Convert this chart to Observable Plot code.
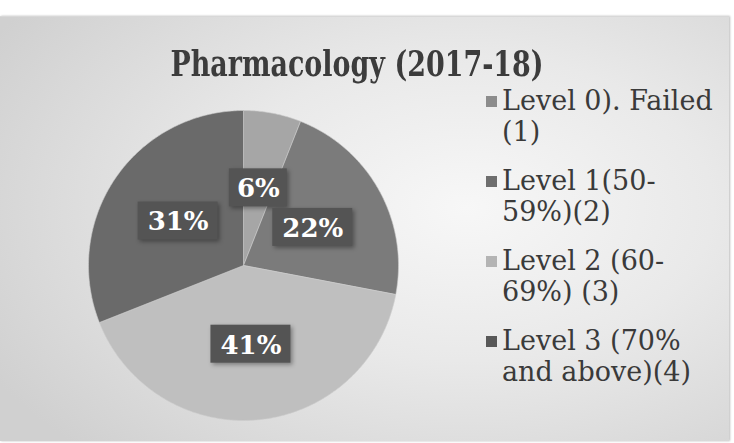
<!DOCTYPE html>
<html><head><meta charset="utf-8">
<script src="https://cdn.jsdelivr.net/npm/d3@7"></script>
<script src="https://cdn.jsdelivr.net/npm/@observablehq/plot@0.6"></script>
<style>
html,body{margin:0;padding:0;background:#fff;}
#wrap{position:relative;width:734px;height:443px;overflow:hidden;font-family:"DejaVu Serif",serif;}
#panel{position:absolute;left:0;top:16px;width:729px;height:424px;
  background:radial-gradient(ellipse 75% 80% at 64% 45%, #f7f7f7 0%, #e9e9e9 45%, #d0d0d0 100%);
  box-shadow: 1px 0 2px #bbb;border-top:1px solid #d8d8d8;}
#title{position:absolute;left:0;width:714px;top:43px;text-align:center;font-weight:bold;font-size:35px;color:#3c3c3c;
  transform:scaleX(0.77);transform-origin:357px 0;white-space:nowrap;}
#chart{position:absolute;left:0;top:0;}
#legend{position:absolute;left:486px;top:85px;color:#3a3a3a;font-size:27px;line-height:31px;white-space:nowrap;}
.item{position:relative;padding-left:16px;margin-bottom:18px;}
.sw{position:absolute;left:0;top:11px;width:11px;height:11px;}
#chart g[aria-label="rect"]{filter:drop-shadow(2px 2px 2px rgba(0,0,0,0.35));}
</style></head>
<body>
<div id="wrap">
  <div id="panel"></div>
  <div id="title"></div>
  <div id="chart"></div>
  <div id="legend"></div>
</div>
<script>
// ---- data ----
const title = "Pharmacology (2017-18)";
const categories = ["Level 0). Failed (1)", "Level 1(50-59%)(2)", "Level 2 (60-69%) (3)", "Level 3 (70% and above)(4)"];
const legendLines = [["Level 0). Failed", "(1)"], ["Level 1(50-", "59%)(2)"], ["Level 2 (60-", "69%) (3)"], ["Level 3 (70%", "and above)(4)"]];
const values = [6, 22, 41, 31];
const labels = ["6%", "22%", "41%", "31%"];

// ---- styling ----
const sliceColors = ["#a6a6a6", "#7b7b7b", "#bfbfbf", "#6a6a6a"];
const swatchColors = ["#8c8c8c", "#6e6e6e", "#b4b4b4", "#585858"];

document.getElementById("title").textContent = title;

const pie = d3.pie().sort(null).value(d => d.value)(categories.map((c, i) => ({category: c, value: values[i], label: labels[i]})));

// slice outlines as polygons in unit-circle coordinates (angle 0 = 12 o'clock, clockwise)
const poly = [];
pie.forEach(a => {
  const n = Math.max(8, Math.ceil((a.endAngle - a.startAngle) / 0.01));
  poly.push({category: a.data.category, x: 0, y: 0});
  for (let k = 0; k <= n; k++) {
    const t = a.startAngle + (a.endAngle - a.startAngle) * k / n;
    poly.push({category: a.data.category, x: Math.sin(t), y: Math.cos(t)});
  }
  poly.push({category: a.data.category, x: 0, y: 0});
});

const cx = 243, cy = 265, R = 155;
const labelR = 0.51;
const lab = pie.map(a => {
  const m = (a.startAngle + a.endAngle) / 2;
  return {label: a.data.label, x: labelR * Math.sin(m), y: labelR * Math.cos(m)};
});
const pxUnit = 1 / R;
const boxes = lab.map(d => {
  const hw = ((d.label.length - 1) * 22 + 36) / 2 * pxUnit;
  const hh = 19 * pxUnit;
  return {x1: d.x - hw, x2: d.x + hw, y1: d.y - hh, y2: d.y + hh};
});

const plot = Plot.plot({
  width: 480, height: 443,
  margin: 0,
  style: {background: "transparent", overflow: "visible"},
  x: {domain: [-1, 1], range: [cx - R, cx + R], axis: null},
  y: {domain: [-1, 1], range: [cy + R, cy - R], axis: null},
  color: {domain: categories, range: sliceColors},
  marks: [
    Plot.line(poly, {x: "x", y: "y", z: "category", fill: "category", stroke: "#cccccc", strokeWidth: 0.6, curve: "linear"}),
    Plot.rect(boxes, {x1: "x1", x2: "x2", y1: "y1", y2: "y2", fill: "#545454"}),
    Plot.text(lab, {x: "x", y: "y", text: "label", fill: "white", fontSize: 26, fontWeight: "bold", fontFamily: "DejaVu Serif", dy: 1})
  ]
});
document.getElementById("chart").appendChild(plot);

const legend = document.getElementById("legend");
categories.forEach((c, i) => {
  const it = document.createElement("div");
  it.className = "item";
  const sw = document.createElement("div");
  sw.className = "sw";
  sw.style.background = swatchColors[i];
  it.appendChild(sw);
  legendLines[i].forEach(l => {
    const ln = document.createElement("div");
    ln.textContent = l;
    it.appendChild(ln);
  });
  legend.appendChild(it);
});
</script>
</body></html>
